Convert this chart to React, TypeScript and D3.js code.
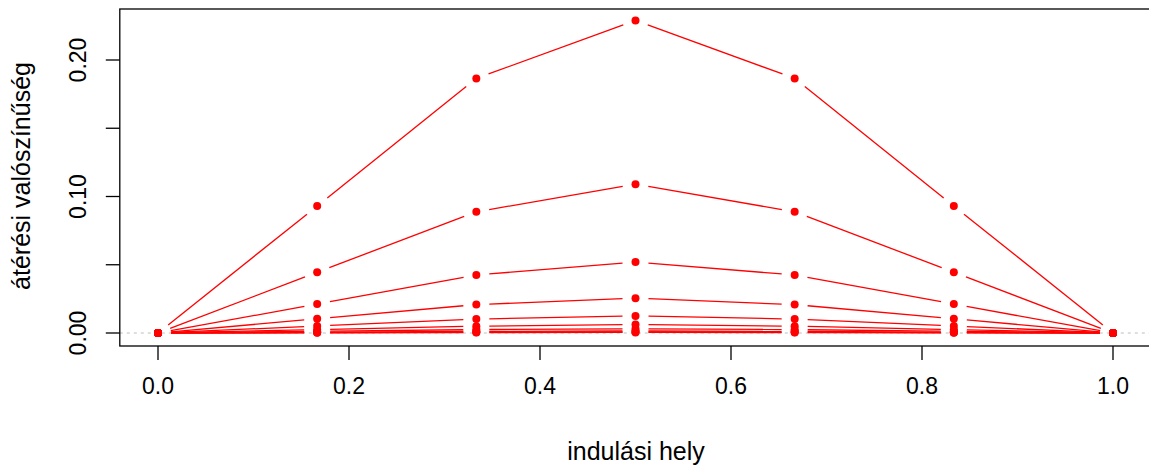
import React from "react";
import * as d3 from "d3";

const positions = [0, 1 / 6, 2 / 6, 3 / 6, 4 / 6, 5 / 6, 1];
const s1 = [0, 0.093, 0.1865, 0.229, 0.1865, 0.093, 0];
const s2 = [0, 0.0445, 0.0888, 0.109, 0.0888, 0.0445, 0];
const s3 = [0, 0.0212, 0.0425, 0.052, 0.0425, 0.0212, 0];
const s4 = [0, 0.0104, 0.0208, 0.0255, 0.0208, 0.0104, 0];
const s5 = [0, 0.0051, 0.0102, 0.0125, 0.0102, 0.0051, 0];
const s6 = [0, 0.0025, 0.005, 0.0062, 0.005, 0.0025, 0];
const s7 = [0, 0.0012, 0.0025, 0.0031, 0.0025, 0.0012, 0];
const s8 = [0, 0.0006, 0.0012, 0.0015, 0.0012, 0.0006, 0];
const s9 = [0, 0.0003, 0.0006, 0.00075, 0.0006, 0.0003, 0];
const s10 = [0, 0.00015, 0.0003, 0.0004, 0.0003, 0.00015, 0];
const seriesList = [s1, s2, s3, s4, s5, s6, s7, s8, s9, s10];

const xTicks = [0, 0.2, 0.4, 0.6, 0.8, 1.0];
const xTickLabels = ["0.0", "0.2", "0.4", "0.6", "0.8", "1.0"];
const yTicks = [0, 0.05, 0.1, 0.15, 0.2];
const yLabelTicks = [0, 0.1, 0.2];
const yTickLabels = ["0.00", "0.10", "0.20"];

const W = 1149;
const H = 465;
const FONT = "'Liberation Sans', Arial, sans-serif";
const FS = 23;
const FS_TITLE = 25;

export default function App() {
  const x = d3.scaleLinear().domain([-0.04, 1.04]).range([119.8, 1151.2]);
  const y = d3.scaleLinear().domain([0, 0.2]).range([333, 60]);
  const boxTop = 9;
  const boxBottom = 346;
  const boxLeft = x(-0.04);
  const boxRight = x(1.04);
  const gap = 13;
  const r = 4;

  const segments: { x1: number; y1: number; x2: number; y2: number }[] = [];
  const points: { cx: number; cy: number }[] = [];
  seriesList.forEach((s) => {
    const pts = s.map((v, i) => [x(positions[i]), y(v)] as [number, number]);
    pts.forEach(([cx, cy]) => points.push({ cx, cy }));
    for (let i = 0; i < pts.length - 1; i++) {
      const [ax, ay] = pts[i];
      const [bx, by] = pts[i + 1];
      const dx = bx - ax;
      const dy = by - ay;
      const len = Math.hypot(dx, dy);
      if (len <= 2 * gap) continue;
      const ux = dx / len;
      const uy = dy / len;
      segments.push({
        x1: ax + ux * gap,
        y1: ay + uy * gap,
        x2: bx - ux * gap,
        y2: by - uy * gap,
      });
    }
  });

  return (
    <svg
      width={W}
      height={H}
      style={{ position: "absolute", left: 0, top: 0, background: "#fff" }}
    >
      <rect x={0} y={0} width={W} height={H} fill="#fff" />
      <line
        x1={boxLeft}
        x2={boxRight}
        y1={y(0)}
        y2={y(0)}
        stroke="#bdbdbd"
        strokeWidth={1}
        strokeDasharray="3,4"
      />
      {segments.map((s, i) => (
        <line
          key={"s" + i}
          x1={s.x1}
          y1={s.y1}
          x2={s.x2}
          y2={s.y2}
          stroke="#ff0000"
          strokeWidth={1.3}
        />
      ))}
      {points.map((p, i) => (
        <circle key={"p" + i} cx={p.cx} cy={p.cy} r={r} fill="#ff0000" />
      ))}
      <rect
        x={boxLeft}
        y={boxTop}
        width={boxRight - boxLeft}
        height={boxBottom - boxTop}
        fill="none"
        stroke="#000"
        strokeWidth={1.3}
      />
      {xTicks.map((t, i) => (
        <g key={"xt" + i}>
          <line x1={x(t)} x2={x(t)} y1={boxBottom} y2={boxBottom + 14} stroke="#000" strokeWidth={1.3} />
          <text
            x={x(t)}
            y={386}
            textAnchor="middle"
            dominantBaseline="central"
            fontFamily={FONT}
            fontSize={FS}
            fill="#000"
          >
            {xTickLabels[i]}
          </text>
        </g>
      ))}
      {yTicks.map((t, i) => (
        <line key={"yt" + i} x1={boxLeft} x2={boxLeft - 14} y1={y(t)} y2={y(t)} stroke="#000" strokeWidth={1.3} />
      ))}
      {yLabelTicks.map((t, i) => (
        <text
          key={"yl" + i}
          transform={`translate(78,${y(t)}) rotate(-90)`}
          textAnchor="middle"
          dominantBaseline="central"
          fontFamily={FONT}
          fontSize={FS}
          fill="#000"
        >
          {yTickLabels[i]}
        </text>
      ))}
      <text
        x={636}
        y={451}
        textAnchor="middle"
        dominantBaseline="central"
        fontFamily={FONT}
        fontSize={FS_TITLE}
        fill="#000"
      >
        indulási hely
      </text>
      <text
        transform={`translate(21,176) rotate(-90)`}
        textAnchor="middle"
        dominantBaseline="central"
        fontFamily={FONT}
        fontSize={FS_TITLE}
        fill="#000"
      >
        átérési valószínűség
      </text>
    </svg>
  );
}
